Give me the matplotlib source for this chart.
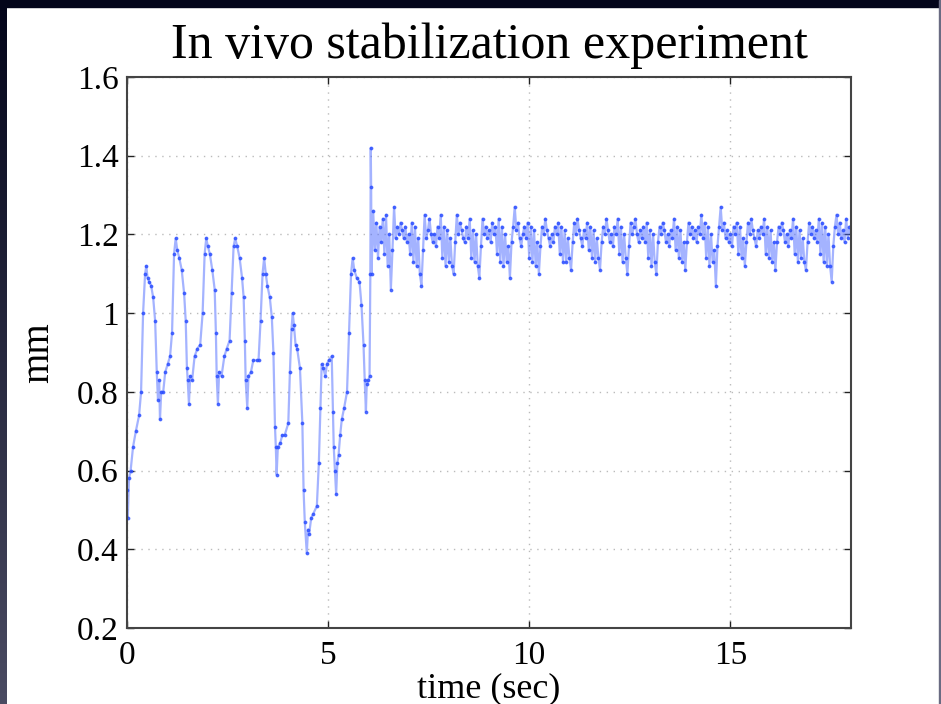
import numpy as np
import matplotlib
matplotlib.use("Agg")
import matplotlib.pyplot as plt

# before stabilization (sec, mm)
t_pre = [0.00, 0.02, 0.05, 0.09, 0.15, 0.22, 0.30, 0.35, 0.40, 0.45, 0.48, 0.51, 0.55, 0.60,
         0.65, 0.70, 0.74, 0.77, 0.80, 0.82, 0.85, 0.90, 0.95, 1.01, 1.07, 1.12, 1.17, 1.21,
         1.25, 1.30, 1.36, 1.42, 1.46, 1.49, 1.51, 1.54, 1.57, 1.62, 1.68, 1.75, 1.82, 1.88,
         1.93, 1.97, 2.01, 2.06, 2.12, 2.18, 2.21, 2.23, 2.26, 2.29, 2.35, 2.42, 2.48, 2.55,
         2.60, 2.65, 2.69, 2.74, 2.80, 2.86, 2.90, 2.93, 2.95, 2.99, 3.02, 3.08, 3.14, 3.22,
         3.27, 3.32, 3.37, 3.41, 3.45, 3.49, 3.55, 3.60, 3.64, 3.68, 3.70, 3.72, 3.75, 3.81,
         3.86, 3.92, 4.01, 4.05, 4.09, 4.12, 4.15, 4.19, 4.23, 4.30, 4.36, 4.39, 4.42, 4.47,
         4.50, 4.53, 4.58, 4.63, 4.72, 4.77, 4.81, 4.84, 4.88, 4.93, 4.97, 5.01, 5.09, 5.12,
         5.14, 5.17, 5.20, 5.23, 5.26, 5.30, 5.34, 5.40, 5.47, 5.52, 5.57, 5.61, 5.65, 5.71,
         5.78, 5.83, 5.88, 5.91, 5.94, 5.96, 6.00, 6.03, 6.05, 6.06, 6.07]
v_pre = [0.55, 0.48, 0.58, 0.60, 0.66, 0.70, 0.74, 0.80, 1.00, 1.10, 1.12, 1.09, 1.08, 1.07,
         1.04, 0.98, 0.85, 0.78, 0.83, 0.73, 0.80, 0.80, 0.85, 0.87, 0.89, 0.95, 1.15, 1.19,
         1.16, 1.14, 1.11, 1.05, 0.98, 0.86, 0.83, 0.77, 0.84, 0.83, 0.89, 0.91, 0.92, 1.00,
         1.15, 1.19, 1.17, 1.15, 1.11, 1.06, 0.95, 0.84, 0.77, 0.85, 0.84, 0.89, 0.91, 0.93,
         1.05, 1.17, 1.19, 1.17, 1.14, 1.09, 1.04, 0.93, 0.83, 0.76, 0.84, 0.85, 0.88, 0.88,
         0.88, 0.98, 1.10, 1.14, 1.10, 1.07, 1.04, 0.99, 0.90, 0.71, 0.66, 0.59, 0.66, 0.67,
         0.69, 0.69, 0.72, 0.85, 0.96, 1.00, 0.97, 0.92, 0.91, 0.86, 0.72, 0.55, 0.47, 0.39,
         0.45, 0.44, 0.48, 0.49, 0.51, 0.62, 0.76, 0.87, 0.86, 0.84, 0.87, 0.88, 0.89, 0.75,
         0.66, 0.60, 0.54, 0.62, 0.64, 0.69, 0.73, 0.76, 0.80, 0.95, 1.10, 1.14, 1.11, 1.09,
         1.08, 1.02, 0.92, 0.83, 0.75, 0.82, 0.83, 0.84, 1.10, 1.42, 1.32]

# after stabilization, sampled every 0.04 s from 6.08 s
post_start = 6.08
post_dt = 0.04
v_post = [
    1.10, 1.26, 1.16, 1.23, 1.14, 1.22, 1.18, 1.24, 1.15, 1.25, 1.12, 1.20, 1.06,
    1.16, 1.27, 1.19, 1.22, 1.20, 1.23, 1.21, 1.19, 1.22, 1.18, 1.20, 1.15, 1.23, 1.13, 1.22, 1.12, 1.19, 1.10, 1.07,
    1.16, 1.25, 1.19, 1.21, 1.24, 1.20, 1.18, 1.20, 1.17, 1.22, 1.19, 1.25, 1.14, 1.22, 1.12, 1.21, 1.13, 1.19, 1.12, 1.10,
    1.18, 1.25, 1.20, 1.23, 1.21, 1.19, 1.18, 1.22, 1.19, 1.24, 1.14, 1.21, 1.13, 1.20, 1.12, 1.09,
    1.17, 1.24, 1.20, 1.22, 1.19, 1.21, 1.18, 1.23, 1.20, 1.22, 1.15, 1.24, 1.13, 1.22, 1.12, 1.20, 1.13, 1.17, 1.09,
    1.18, 1.22, 1.27, 1.21, 1.23, 1.19, 1.17, 1.20, 1.22, 1.19, 1.23, 1.14, 1.22, 1.13, 1.21, 1.12, 1.18, 1.10,
    1.17, 1.22, 1.20, 1.24, 1.21, 1.19, 1.17, 1.20, 1.18, 1.22, 1.20, 1.23, 1.15, 1.22, 1.13, 1.21, 1.13, 1.19, 1.14, 1.11,
    1.18, 1.23, 1.20, 1.24, 1.21, 1.19, 1.17, 1.21, 1.19, 1.23, 1.16, 1.22, 1.14, 1.21, 1.13, 1.19, 1.14, 1.11,
    1.18, 1.22, 1.20, 1.24, 1.21, 1.18, 1.20, 1.17, 1.22, 1.20, 1.24, 1.15, 1.22, 1.13, 1.20, 1.14, 1.10,
    1.17, 1.23, 1.20, 1.22, 1.24, 1.20, 1.18, 1.21, 1.19, 1.22, 1.18, 1.23, 1.14, 1.21, 1.12, 1.20, 1.13, 1.10,
    1.18, 1.22, 1.20, 1.23, 1.21, 1.18, 1.20, 1.17, 1.21, 1.19, 1.24, 1.16, 1.22, 1.14, 1.21, 1.13, 1.18, 1.11,
    1.18, 1.23, 1.20, 1.22, 1.19, 1.21, 1.18, 1.22, 1.20, 1.25, 1.19, 1.23, 1.14, 1.22, 1.12, 1.20, 1.13, 1.16, 1.07,
    1.17, 1.22, 1.27, 1.21, 1.23, 1.19, 1.21, 1.18, 1.20, 1.17, 1.22, 1.20, 1.23, 1.15, 1.22, 1.14, 1.19, 1.12,
    1.18, 1.23, 1.20, 1.24, 1.21, 1.19, 1.17, 1.21, 1.19, 1.22, 1.20, 1.24, 1.15, 1.22, 1.14, 1.21, 1.13, 1.18, 1.11,
    1.18, 1.22, 1.20, 1.23, 1.21, 1.18, 1.20, 1.17, 1.21, 1.19, 1.24, 1.15, 1.22, 1.13, 1.21, 1.14, 1.19, 1.13, 1.11,
    1.18, 1.23, 1.20, 1.22, 1.19, 1.21, 1.18, 1.24, 1.15, 1.23, 1.13, 1.22, 1.12, 1.20, 1.12, 1.08,
    1.17, 1.22, 1.25, 1.20, 1.23, 1.19, 1.21, 1.18, 1.24, 1.19, 1.22, 1.20,
]
t_post = post_start + post_dt * np.arange(len(v_post))

t = np.concatenate([t_pre, t_post])
v = np.concatenate([v_pre, v_post])

plt.rcParams['font.family'] = ['Liberation Serif', 'DejaVu Serif']

fig = plt.figure(figsize=(9.41, 7.04), dpi=100, facecolor='white')

# dark slide frame on the left, top and right edges
grad = np.linspace(0, 1, 256).reshape(-1, 1)
fax = fig.add_axes([0, 0, 7 / 941, 1])
fax.imshow(grad, aspect='auto', cmap=matplotlib.colors.LinearSegmentedColormap.from_list(
    'frame', ['#03051a', '#4a4b62']), extent=[0, 1, 1, 0])
fax.axis('off')
fig.patches.append(plt.Rectangle((0, 1 - 7 / 704), 1, 7 / 704, transform=fig.transFigure,
                                 color='#03051a', zorder=5))
fig.patches.append(plt.Rectangle((939 / 941, 0), 2 / 941, 1, transform=fig.transFigure,
                                 color='#6a6b82', zorder=5))

ax = fig.add_axes([127 / 941, 1 - 628 / 704, 724 / 941, 551 / 704])
ax.plot(t, v, '-', color='#4a68ff', lw=1.6, alpha=0.5)
ax.plot(t, v, '.', color='#2a4dff', ms=3.5, alpha=0.75)

ax.set_xlim(0, 18)
ax.set_ylim(0.2, 1.6)
ax.set_xticks([0, 5, 10, 15])
ax.set_yticks([0.2, 0.4, 0.6, 0.8, 1.0, 1.2, 1.4, 1.6])
ax.set_yticklabels(['0.2', '0.4', '0.6', '0.8', '1', '1.2', '1.4', '1.6'])
ax.tick_params(direction='in', length=5, width=1, top=True, right=True,
               labelsize=24, colors='#222222', labelcolor='black', pad=6)
ax.tick_params(axis='x', pad=9)
ax.grid(True, linestyle=(0, (1, 4)), color='#bbbbbb', lw=1)
for s in ax.spines.values():
    s.set_color('#444444')
    s.set_linewidth(1.5)

ax.set_xlabel('time (sec)', fontsize=26, labelpad=1)
ax.set_ylabel('mm', fontsize=28, labelpad=14)
ax.set_title('In vivo stabilization experiment', fontsize=36, pad=14)

fig.savefig('out.png', dpi=100, facecolor='white')
